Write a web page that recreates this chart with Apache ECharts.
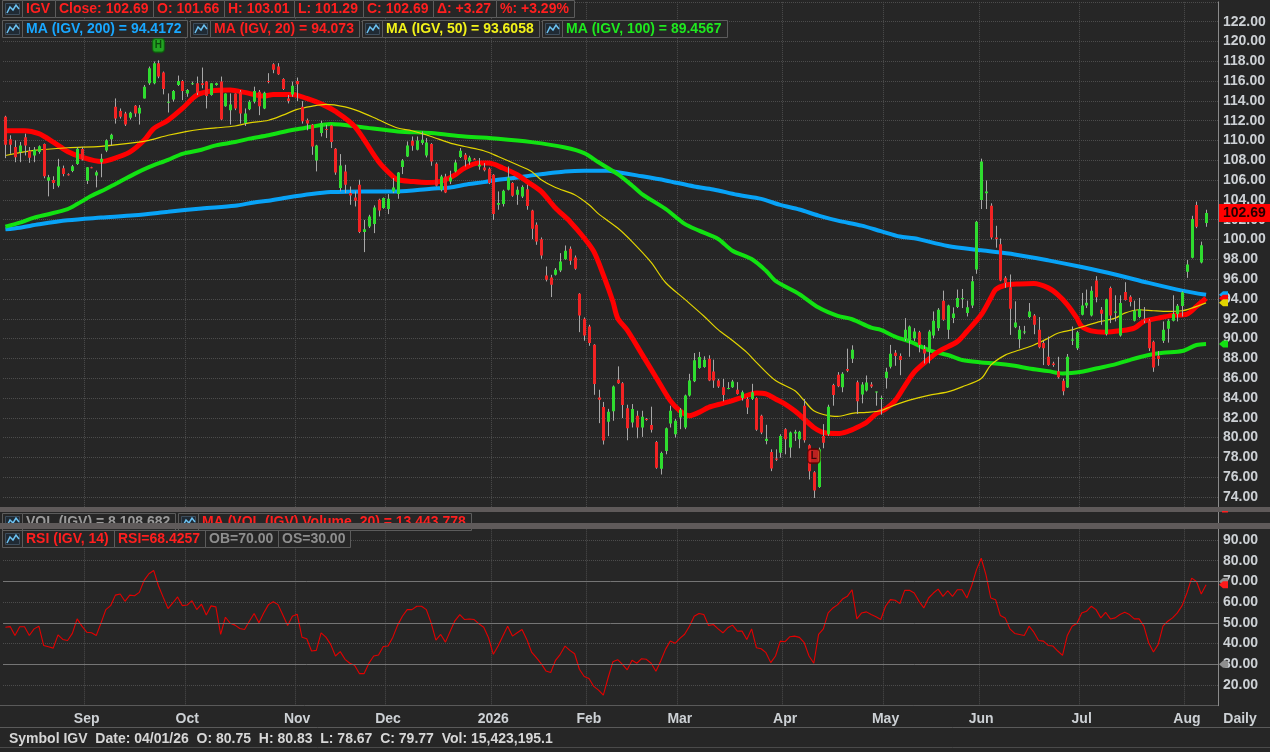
<!DOCTYPE html>
<html>
<head>
<meta charset="utf-8">
<title>IGV Daily</title>
<script src="https://cdn.jsdelivr.net/npm/echarts@6.0.0/dist/echarts.min.js"></script>
<style>
html, body { margin: 0; padding: 0; background: #262626; }
#chart { width: 1270px; height: 752px; }
</style>
</head>
<body>
<div id="chart"></div>
<script>
// ---- data ----
var holidays = ['2025-09-01', '2025-11-27', '2025-12-25', '2026-01-01', '2026-01-19',
    '2026-02-16', '2026-04-03', '2026-05-25', '2026-06-19', '2026-07-03'];
var firstDay = '2025-08-07';
var monthNames = ['Jan', 'Feb', 'Mar', 'Apr', 'May', 'Jun', 'Jul', 'Aug', 'Sep', 'Oct', 'Nov', 'Dec'];

var openP = [112.39,110.12,109.34,108.83,110.32,108.93,108.49,108.83,109.64,105.95,
    106.02,105.44,107.2,106.59,106.93,107.64,109.14,105.95,107.31,106.46,
    107.81,109.0,110.12,113.41,112.97,112.73,112.29,113.51,112.73,114.25,
    115.78,115.78,117.81,116.86,113.81,114.15,115.61,116.02,114.76,115.68,
    115.78,115.78,115.95,114.59,115.61,115.95,113.47,113.07,114.76,114.93,
    111.78,113.17,113.92,114.93,113.24,116.02,117.71,117.47,116.22,114.25,
    114.66,116.02,113.41,112.05,111.59,107.99,110.75,111.16,111.53,109.17,
    105.2,106.88,104.69,104.25,105.53,100.75,101.32,101.56,104.02,103.18,
    103.08,104.86,104.59,107.32,108.39,109.98,109.07,109.74,108.5,109.64,
    107.65,105.03,106.37,105.87,106.88,108.33,108.56,107.89,108.16,107.38,
    107.28,107.15,106.54,103.51,103.58,105.03,105.7,104.52,104.35,105.09,
    102.94,101.49,100.04,96.37,96.17,96.44,96.88,98.02,99.07,98.19,
    94.52,92.0,91.22,89.37,84.05,83.1,81.6,82.65,85.83,85.49,
    82.95,81.53,82.21,81.02,81.87,81.26,79.56,76.85,78.65,81.42,
    80.34,82.04,81.02,84.24,85.7,87.02,87.12,87.97,86.68,85.76,
    85.09,84.95,85.09,84.82,84.0,83.9,83.9,84.0,82.21,79.66,
    78.54,77.9,78.48,80.85,78.99,80.41,79.83,83.22,79.22,76.51,
    75.02,80.17,80.34,85.32,86.34,85.09,86.92,87.97,85.6,84.34,
    84.75,85.36,84.58,83.93,86.03,87.15,88.57,88.23,89.96,89.79,
    90.03,90.64,88.94,88.67,90.3,91.05,93.83,90.88,92.07,93.18,
    93.99,92.57,93.35,96.98,104.0,104.67,103.42,100.2,99.52,96.13,
    95.18,91.15,89.93,90.61,92.17,92.34,90.88,89.55,88.16,87.49,
    86.71,85.73,85.05,89.79,89.01,92.4,93.35,92.34,95.86,92.91,
    90.47,95.11,92.61,90.3,94.71,94.23,91.79,92.17,92.0,91.83,
    89.69,88.27,89.79,90.98,91.79,92.47,93.28,96.74,98.17,103.49,
    97.69,101.66];
var highP = [112.5,110.53,110.02,109.85,110.69,109.34,109.34,109.51,109.7,106.53,
    106.39,108.15,107.47,106.69,107.54,109.34,109.34,107.31,107.35,106.97,
    108.66,110.12,110.69,114.25,113.24,112.9,112.9,113.58,113.58,115.61,
    117.47,117.98,118.1,116.97,114.76,115.1,116.56,116.12,115.2,115.95,
    116.46,117.37,116.02,115.78,115.85,116.46,114.76,114.76,114.76,115.1,
    113.24,114.08,115.44,115.1,114.93,116.8,117.81,117.81,116.29,114.59,
    115.95,116.36,113.98,112.22,111.66,109.57,112.0,111.59,111.59,109.24,
    108.63,107.55,105.36,104.86,106.04,101.98,102.5,103.45,104.12,104.25,
    104.59,106.21,106.81,108.13,109.91,110.41,110.41,110.92,110.25,109.74,
    107.79,106.54,106.64,106.95,108.06,109.24,108.73,108.46,108.23,108.23,
    107.72,107.28,106.61,104.86,105.03,107.38,105.8,105.36,105.47,105.53,
    103.01,101.73,100.21,97.28,96.44,97.12,98.63,99.4,99.3,98.39,
    94.59,92.13,91.39,89.44,84.83,83.6,82.9,85.26,87.19,85.6,
    83.32,83.39,82.71,82.71,81.97,83.12,79.66,78.58,81.02,83.22,
    81.87,82.98,84.34,86.44,88.54,88.65,88.21,88.31,87.87,85.93,
    85.93,85.6,85.83,85.6,84.75,84.07,85.43,84.07,82.31,81.29,
    78.81,78.81,80.34,80.95,80.61,80.78,80.68,83.9,79.32,76.61,
    78.99,81.36,83.32,85.43,86.61,86.61,88.98,89.32,85.76,85.6,
    86.27,85.6,84.65,84.24,87.05,89.36,88.84,88.5,92.06,91.32,
    91.05,90.78,89.35,90.88,92.74,93.08,94.84,93.42,93.15,94.95,
    95.01,93.83,96.3,101.89,108.17,105.96,103.66,101.39,100.1,96.3,
    96.47,93.76,91.28,91.28,93.59,92.47,92.17,89.79,90.2,87.66,
    88.16,85.96,88.44,91.22,90.78,94.61,94.95,95.28,96.3,93.18,
    94.03,95.25,94.37,94.37,95.69,94.37,93.83,94.1,93.18,91.96,
    89.79,88.74,91.73,91.96,94.37,93.49,94.78,97.93,102.4,103.83,
    99.79,103.01];
var lowP = [108.22,108.66,107.81,107.81,108.49,107.75,107.81,108.66,106.19,104.36,
    105.1,105.27,106.39,106.46,106.8,107.54,107.98,105.61,107.2,105.27,
    106.29,108.83,109.51,111.71,112.22,111.47,112.12,112.39,111.61,114.25,
    115.61,115.68,116.29,114.66,112.83,113.92,115.51,114.08,114.42,115.61,
    114.59,115.27,113.24,114.53,115.54,112.05,113.41,111.61,113.07,111.71,
    111.47,113.07,113.75,112.56,113.17,115.78,116.8,116.63,115.1,113.75,
    114.42,113.98,111.71,111.03,108.56,106.88,110.41,110.25,109.24,106.54,
    104.86,104.69,103.51,103.34,100.65,98.73,101.16,100.65,102.33,103.11,
    102.57,104.69,104.12,106.61,108.33,108.97,109.0,109.57,108.29,107.45,
    105.36,104.86,104.69,105.6,106.78,108.23,107.38,107.55,108.02,107.05,
    106.88,105.6,101.98,103.01,103.34,104.96,104.32,103.51,104.19,103.01,
    100.04,99.47,98.06,95.77,94.19,96.37,96.71,97.96,97.45,96.95,
    90.65,89.78,89.27,84.32,81.46,79.3,80.15,81.7,85.43,81.97,
    79.73,81.02,79.93,80.07,81.7,80.51,76.85,76.27,78.31,81.02,
    80.0,80.85,80.85,84.14,85.6,86.95,87.05,85.7,85.02,85.02,
    83.66,84.88,85.02,84.34,83.73,82.38,83.8,80.68,80.34,79.32,
    76.61,77.63,77.97,78.31,77.97,79.66,78.92,79.49,75.77,73.9,
    74.92,78.92,80.17,83.22,85.09,84.58,86.61,87.53,82.38,83.46,
    84.65,85.02,83.22,82.31,84.95,86.98,87.25,86.3,89.76,88.16,
    89.76,88.61,87.49,87.49,90.03,90.78,91.79,89.96,91.56,93.08,
    93.08,92.23,93.08,96.54,103.08,103.08,100.03,99.18,95.79,95.12,
    90.37,91.05,89.01,90.44,92.06,90.44,89.01,87.32,87.25,87.15,
    85.96,84.27,85.01,89.35,88.84,92.34,93.08,92.23,93.66,91.39,
    90.3,91.56,91.73,90.2,93.83,93.25,91.73,92.06,91.56,88.74,
    86.64,87.25,89.55,89.59,91.73,91.73,92.23,96.13,98.1,101.15,
    97.59,101.29];
var closeP = [109.58,109.58,108.32,109.51,109.51,108.25,109.07,109.41,106.39,106.29,
    105.71,107.37,106.63,106.53,107.41,109.17,108.08,107.31,107.24,106.8,
    108.15,110.02,110.59,112.22,112.39,111.61,112.8,112.73,113.31,115.44,
    117.31,117.81,116.46,115.2,113.92,115.0,116.02,115.0,115.1,115.78,
    114.83,115.61,114.49,115.78,115.78,112.12,114.76,113.64,113.24,112.73,
    112.73,113.92,115.0,113.47,114.83,115.95,117.14,116.69,115.2,113.98,
    115.54,115.68,111.95,111.71,109.4,109.5,111.76,111.06,109.84,106.78,
    107.49,105.53,104.46,103.92,100.75,101.05,102.33,103.24,102.94,104.19,
    104.12,105.26,106.78,107.99,109.5,109.47,110.01,110.08,109.81,107.89,
    105.43,106.37,104.76,106.27,107.79,108.97,108.06,108.29,108.09,107.55,
    107.01,105.7,102.57,103.68,104.93,106.27,104.42,105.03,105.3,103.38,
    101.09,99.81,98.39,95.94,95.43,96.95,97.79,98.87,97.86,97.05,
    92.33,90.31,89.54,85.4,83.82,79.7,82.6,85.15,85.49,83.29,
    80.95,82.88,81.02,82.1,81.8,80.78,76.95,78.44,80.95,82.71,
    81.7,82.82,84.24,85.76,87.8,88.14,87.87,85.76,85.76,85.16,
    84.31,85.02,85.66,84.41,84.58,83.05,84.58,80.78,80.51,79.87,
    76.88,77.77,80.17,79.83,80.51,80.58,80.58,79.73,76.61,74.65,
    78.82,79.49,83.12,84.31,85.19,86.44,86.75,88.88,83.66,85.36,
    85.56,85.16,84.65,84.0,86.64,88.47,88.23,87.83,90.88,91.22,
    90.71,89.35,88.5,90.71,91.79,92.91,91.9,93.35,92.54,94.1,
    94.1,93.15,95.79,101.79,107.89,104.84,100.2,100.06,95.86,95.62,
    93.01,91.62,90.88,90.71,92.74,91.39,89.12,89.01,87.32,87.32,
    86.1,84.67,88.16,89.9,90.64,93.35,93.62,94.84,94.17,92.5,
    93.96,92.34,92.74,93.59,93.9,93.69,92.81,92.98,91.79,89.01,
    87.08,87.93,90.88,91.79,92.47,93.32,94.68,97.49,102.07,101.29,
    99.42,102.69];

// moving averages as read, [bar index, value]
var ma20 = [[0,111.0],[4,111.0],[7,110.69],[10,109.85],[13,108.9],[16,108.32],[20,107.88],[22,108.08],
    [26,108.83],[29,110.02],[31,111.2],[34,112.05],[37,113.24],[40,114.59],[43,115.0],[47,115.1],
    [50,114.86],[54,114.49],[56,114.66],[60,114.66],[63,114.25],[66,113.7],[69,112.94],[73,111.43],
    [78,107.89],[81,106.37],[82,106.04],[85,105.87],[88,105.77],[90,105.8],[92,106.04],[94,106.54],
    [96,107.22],[99,107.72],[101,107.72],[104,107.22],[107,106.54],[109,105.87],[112,104.86],[115,103.18],
    [118,101.83],[121,100.15],[123,98.8],[125,96.44],[127,93.75],[128,92.07],[130,90.85],[133,88.48],
    [136,86.1],[139,83.73],[141,82.71],[143,82.21],[145,82.55],[147,83.05],[150,83.46],[152,83.73],
    [154,84.07],[157,84.51],[159,84.41],[161,83.9],[163,83.39],[165,82.71],[167,81.87],[169,81.02],
    [171,80.51],[174,80.41],[176,80.61],[178,81.02],[180,81.53],[182,82.38],[184,82.88],[186,83.73],
    [188,85.2],[190,86.6],[192,87.5],[195,88.67],[199,89.69],[201,90.71],[204,92.4],[206,94.1],
    [207,94.95],[209,95.39],[212,95.52],[215,95.56],[218,95.12],[220,94.44],[222,93.42],[224,92.06],
    [225,91.22],[227,90.78],[230,90.64],[233,90.78],[236,91.05],[238,91.73],[241,92.06],[244,92.34],
    [247,92.47],[249,93.25],[251,94.07]];
var ma50 = [[0,108.49],[6,109.0],[13,109.27],[20,109.41],[27,109.78],[30,110.02],[34,110.53],[38,110.93],
    [41,111.14],[44,111.27],[48,111.47],[51,111.78],[55,112.05],[58,112.56],[61,113.14],[64,113.45],
    [67,113.65],[71,113.4],[74,112.94],[78,112.1],[82,111.26],[85,110.99],[89,110.41],[93,109.74],
    [96,109.4],[100,108.97],[103,108.39],[107,107.55],[110,106.88],[112,106.04],[115,105.26],[119,104.52],
    [122,103.51],[124,102.59],[128,101.16],[131,99.79],[135,97.69],[138,95.66],[142,93.98],[146,92.28],
    [149,90.9],[152,89.8],[155,88.6],[157,87.6],[161,85.76],[165,84.75],[167,83.73],[169,82.71],
    [172,82.21],[174,82.14],[177,82.44],[180,82.55],[183,82.71],[185,83.12],[189,83.78],[193,84.27],
    [197,84.61],[200,85.12],[204,85.96],[206,87.32],[209,88.33],[212,88.84],[215,89.35],[218,90.03],
    [220,90.54],[223,90.88],[226,91.32],[229,91.73],[232,92.06],[234,92.57],[237,92.91],[240,92.81],
    [243,92.74],[246,92.81],[248,93.08],[251,93.61]];
var ma100 = [[0,101.31],[3,101.71],[6,102.22],[9,102.56],[13,103.07],[15,103.58],[18,104.42],[21,105.1],
    [23,105.61],[27,106.63],[30,107.31],[34,108.05],[37,108.66],[41,109.07],[44,109.51],[48,109.85],
    [51,110.19],[55,110.53],[58,110.86],[61,111.14],[64,111.4],[68,111.66],[75,111.32],[82,110.92],
    [89,110.75],[96,110.41],[103,110.18],[110,109.84],[117,109.3],[121,108.73],[124,107.8],[128,106.6],
    [131,105.46],[133,104.62],[138,103.09],[142,101.58],[145,100.9],[149,100.06],[152,98.87],[156,98.03],
    [159,96.85],[161,95.83],[166,94.48],[170,93.13],[174,92.29],[177,91.95],[181,91.1],[183,90.88],
    [186,90.2],[190,89.52],[193,88.84],[197,88.34],[200,87.83],[204,87.59],[207,87.49],[211,87.25],
    [214,86.98],[218,86.71],[221,86.47],[225,86.64],[228,86.98],[232,87.39],[235,87.83],[239,88.34],
    [242,88.57],[246,88.74],[249,89.35],[251,89.46]];
var ma200 = [[0,101.03],[3,101.2],[7,101.54],[13,101.95],[20,102.22],[27,102.46],[34,102.8],[41,103.14],
    [48,103.41],[52,103.75],[55,103.92],[59,104.25],[64,104.6],[68,104.79],[75,104.86],[82,104.86],
    [89,105.13],[93,105.26],[96,105.53],[100,105.8],[103,106.04],[107,106.27],[110,106.48],[114,106.71],
    [117,106.88],[121,106.95],[126,106.95],[128,106.8],[132,106.48],[138,105.97],[144,105.36],[148,105.06],
    [153,104.52],[158,104.11],[162,103.5],[166,103.03],[170,102.42],[174,101.91],[179,101.41],[183,100.85],
    [187,100.3],[190,100.13],[197,99.35],[204,98.91],[211,98.5],[218,97.9],[225,97.22],[232,96.47],
    [239,95.62],[246,94.84],[251,94.42]];

var rsi14 = [47.9,48.2,43.9,48.1,48.1,43.9,47.1,48.4,39.1,38.5,
    37.8,44.2,42.0,41.5,44.9,51.9,48.4,45.5,45.2,43.9,
    50.0,56.4,58.3,63.4,63.9,60.4,63.4,63.1,64.7,70.5,
    73.7,75.3,67.9,62.3,56.9,59.6,62.5,58.3,58.6,60.7,
    56.4,59.0,53.8,58.2,57.7,44.4,52.7,49.8,48.9,47.3,
    46.8,50.8,54.5,50.0,54.8,58.8,60.2,58.8,53.8,48.7,
    53.2,54.2,43.1,42.3,36.4,36.7,45.2,43.1,39.6,34.0,
    36.1,32.4,30.5,29.5,25.5,25.5,30.5,34.0,34.5,38.6,
    38.8,43.1,48.9,53.2,56.4,56.4,58.0,58.0,56.4,50.0,
    41.7,44.4,40.7,46.0,51.1,54.0,51.6,51.9,51.6,49.5,
    47.9,42.8,34.8,38.8,43.6,48.4,43.6,45.2,46.8,42.0,
    35.9,33.2,30.3,26.8,26.0,31.9,34.8,38.8,36.7,35.1,
    27.6,24.1,23.1,19.3,17.5,15.1,23.5,31.2,32.2,30.0,
    27.3,31.9,30.5,32.7,32.4,30.5,26.6,31.6,37.2,41.2,
    40.1,42.5,44.5,48.4,53.2,54.5,54.0,48.7,49.2,47.1,
    45.2,47.6,48.9,46.0,46.0,42.0,47.1,38.0,37.5,35.6,
    30.8,34.0,41.2,40.9,43.3,43.6,43.0,40.4,34.0,30.5,
    44.4,47.1,54.8,57.2,58.8,61.5,62.8,66.0,51.9,54.8,
    55.3,54.0,52.9,51.6,58.0,61.2,60.9,59.3,65.7,65.7,
    64.4,60.4,57.2,62.0,64.4,66.3,62.8,65.5,62.8,66.0,
    66.0,62.0,67.9,75.6,81.2,73.2,62.0,61.2,53.5,52.4,
    47.1,44.9,44.4,43.9,48.4,45.5,41.5,41.2,39.1,38.8,
    36.4,34.3,43.9,48.4,49.7,54.8,55.6,58.0,56.4,52.4,
    55.1,51.9,52.4,54.0,55.1,54.0,51.9,51.9,48.4,40.4,
    35.9,39.6,48.4,50.8,52.4,54.8,58.3,64.4,71.6,70.0,
    63.9,68.4];
var rsiLevels = [70, 50, 30];

// axis ranges (tick labels every 2 / every 10)
var priceAxis = { min: 72, max: 124, step: 2 };
var rsiAxis = { min: 10, max: 100, step: 10 };

// header texts
var headRow = ['IGV', 'Close: 102.69', 'O: 101.66', 'H: 103.01', 'L: 101.29', 'C: 102.69', 'Δ: +3.27', '%: +3.29%'];
var maRow = [
    ['MA (IGV, 200) = 94.4172', '#19a7ff'],
    ['MA (IGV, 20) = 94.073', '#ff1f1f'],
    ['MA (IGV, 50) = 93.6058', '#f2f21a'],
    ['MA (IGV, 100) = 89.4567', '#1fe81f']
];
var volRow = [['VOL (IGV) = 8,108,682', '#9a9a9a'], ['MA (VOL (IGV) Volume, 20) = 13,443,778', '#ff1f1f']];
var rsiRow = [['RSI (IGV, 14)', '#ff1f1f'], ['RSI=68.4257', '#ff1f1f'], ['OB=70.00', '#8e8e8e'], ['OS=30.00', '#8e8e8e']];
var statusText = 'Symbol IGV  Date: 04/01/26  O: 80.75  H: 80.83  L: 78.67  C: 79.77  Vol: 15,423,195.1';

// ---- setup ----
var BG = '#262626';
var TXT = '#cdd1d5';
var DOTS = '#4c4c4c';
var FONTFAM = '"Liberation Sans", Arial, sans-serif';
var FONT = 'bold 14px ' + FONTFAM;

function tradingDays(start, count) {
    var out = [];
    var d = new Date(start + 'T12:00:00Z');
    while (out.length < count) {
        var wd = d.getUTCDay();
        var s = d.toISOString().slice(0, 10);
        if (wd !== 0 && wd !== 6 && holidays.indexOf(s) < 0) out.push(s);
        d.setUTCDate(d.getUTCDate() + 1);
    }
    return out;
}
// two empty slots at the right edge
var dates = tradingDays(firstDay, openP.length + 2);

function isMonthStart(index) {
    return index > 0 && dates[index].slice(5, 7) !== dates[index - 1].slice(5, 7);
}
function monthLabel(value) {
    var m = +value.slice(5, 7);
    return m === 1 ? value.slice(0, 4) : monthNames[m - 1];
}

var candleRows = openP.map(function (o, i) {
    return [i, o, closeP[i], lowP[i], highP[i]];
});

var hiIdx = 0, loIdx = 0;
highP.forEach(function (v, i) { if (v > highP[hiIdx]) hiIdx = i; });
lowP.forEach(function (v, i) { if (v < lowP[loIdx]) loIdx = i; });

function renderCandle(params, api) {
    var i = api.value(0);
    var o = api.value(1), c = api.value(2), l = api.value(3), h = api.value(4);
    var po = api.coord([i, o]), pc = api.coord([i, c]);
    var yl = api.coord([i, l])[1], yh = api.coord([i, h])[1];
    var xs = Math.round(po[0]) + 0.5;
    var top = Math.min(po[1], pc[1]);
    var hgt = Math.max(1, Math.abs(po[1] - pc[1]));
    return {
        type: 'group',
        children: [
            { type: 'line', shape: { x1: xs, y1: yh, x2: xs, y2: yl }, style: { stroke: '#a8a8a8', lineWidth: 1 } },
            { type: 'rect', shape: { x: xs - 1.5, y: top, width: 3, height: hgt },
              style: { fill: c >= o ? '#2fdc2f' : '#f22323' } }
        ]
    };
}

function monthAxis(gridIndex, showLabel) {
    return {
        type: 'category', gridIndex: gridIndex, data: dates, boundaryGap: true,
        axisLine: { show: false },
        axisTick: { show: false },
        axisPointer: { show: false },
        axisLabel: {
            show: showLabel, interval: isMonthStart, formatter: monthLabel,
            color: TXT, fontWeight: 'bold', fontSize: 14, fontFamily: FONTFAM, margin: 6
        },
        splitLine: { show: true, interval: isMonthStart, lineStyle: { color: DOTS, type: 'dotted', width: 1 } }
    };
}

function valueAxis(gridIndex, r) {
    return {
        type: 'value', gridIndex: gridIndex, position: 'right',
        min: r.min, max: r.max, interval: r.step,
        axisLine: { show: true, lineStyle: { color: '#8a8a8a' } },
        axisTick: { show: false },
        axisLabel: {
            color: TXT, fontWeight: 'bold', fontSize: 14, fontFamily: FONTFAM, margin: 5,
            showMinLabel: false, showMaxLabel: false,
            formatter: function (v) { return v.toFixed(2); }
        },
        splitLine: { show: true, lineStyle: { color: DOTS, type: 'dotted', width: 1 } }
    };
}

function maLine(name, data, color, width, z) {
    return {
        type: 'line', name: name, xAxisIndex: 0, yAxisIndex: 0, data: data,
        showSymbol: false, smooth: 0.3, silent: true, z: z,
        lineStyle: { color: color, width: width }
    };
}

function marker(idx, letter, fill, border, ink) {
    return {
        type: 'scatter', xAxisIndex: 0, yAxisIndex: 0, silent: true, z: 8,
        data: [[idx, highP[idx]]],
        symbol: 'roundRect', symbolSize: [12, 14], symbolOffset: [0, -15],
        itemStyle: { color: fill, borderColor: border, borderWidth: 1.5 },
        label: { show: true, position: 'inside', formatter: letter, color: ink,
                 fontWeight: 'bold', fontSize: 10, fontFamily: FONTFAM }
    };
}

var chart = echarts.init(document.getElementById('chart'));

chart.setOption({
    backgroundColor: BG,
    animation: false,
    grid: [
        { left: 3, top: 1.9, width: 1215, height: 514.9 },
        { left: 3, top: 519.3, width: 1215, height: 186.4 }
    ],
    xAxis: [monthAxis(0, false), monthAxis(1, true)],
    yAxis: [valueAxis(0, priceAxis), valueAxis(1, rsiAxis)],
    series: [
        maLine('MA200', ma200, '#08a3f7', 4, 2),
        maLine('MA100', ma100, '#12e212', 4, 3),
        maLine('MA20', ma20, '#ff0000', 5, 4),
        maLine('MA50', ma50, '#e2d400', 1.2, 5),
        {
            type: 'custom', name: 'IGV', xAxisIndex: 0, yAxisIndex: 0,
            renderItem: renderCandle, data: candleRows, z: 6, clip: true,
            encode: { x: 0, y: [1, 2, 3, 4] }
        },
        marker(hiIdx, 'H', '#22c322', '#0b5a0b', '#063306'),
        marker(loIdx, 'L', '#e22020', '#5a0000', '#1a0000'),
        {
            type: 'line', name: 'RSI', xAxisIndex: 1, yAxisIndex: 1, data: rsi14,
            showSymbol: false, silent: true, z: 4,
            lineStyle: { color: '#e30000', width: 1.1 },
            markLine: {
                silent: true, symbol: 'none', label: { show: false },
                lineStyle: { color: '#757575', type: 'solid', width: 1 },
                data: rsiLevels.map(function (v) { return { yAxis: v }; })
            }
        }
    ]
});

// ---- overlays: header boxes, panel separators, axis flags ----
var ctx = document.createElement('canvas').getContext('2d');
function textW(t) { ctx.font = FONT; return ctx.measureText(t).width; }

var gfx = [];
function iconBox(x, y, h, z) {
    z = z || 100;
    gfx.push({ type: 'rect', z: z, shape: { x: x + 0.5, y: y + 0.5, width: 20, height: h },
               style: { fill: BG, stroke: '#5c5c5c', lineWidth: 1 } });
    gfx.push({ type: 'rect', z: z + 1, shape: { x: x + 3.5, y: y + 3.5, width: 14, height: h - 6 },
               style: { fill: '#1f2a34', stroke: '#3d4d5c', lineWidth: 1 } });
    gfx.push({ type: 'polyline', z: z + 2,
               shape: { points: [[x + 5, y + h - 4], [x + 8, y + 7], [x + 11, y + 10], [x + 14, y + 5], [x + 17, y + 9]] },
               style: { stroke: '#6cc2f2', lineWidth: 1.5, fill: null } });
    return x + 20;
}
function textBox(x, y, h, text, color, z) {
    var w = Math.round(textW(text)) + 9;
    gfx.push({ type: 'rect', z: z, shape: { x: x + 0.5, y: y + 0.5, width: w, height: h },
               style: { fill: BG, stroke: '#5c5c5c', lineWidth: 1 } });
    gfx.push({ type: 'text', z: z + 1, x: x + 4, y: y + h / 2 + 1,
               style: { text: text, fill: color, font: FONT, align: 'left', verticalAlign: 'middle' } });
    return x + w;
}

// row 1: symbol quote
var x = iconBox(2, 0, 17);
headRow.forEach(function (t) { x = textBox(x, 0, 17, t, '#ff1f1f', 100); });

// row 2: moving averages
x = 2;
maRow.forEach(function (m) { x = iconBox(x, 20, 17); x = textBox(x, 20, 17, m[0], m[1], 100) + 3; });

// volume strip (mostly hidden) and separators
gfx.push({ type: 'rect', z: 140, shape: { x: 0, y: 512, width: 1270, height: 11 }, style: { fill: BG } });
gfx.push({ type: 'line', z: 141, shape: { x1: 1218.5, y1: 512, x2: 1218.5, y2: 523 }, style: { stroke: '#8a8a8a', lineWidth: 1 } });
x = 2;
volRow.forEach(function (m) { x = iconBox(x, 513, 17, 150); x = textBox(x, 513, 17, m[0], m[1], 150) + 3; });
gfx.push({ type: 'rect', z: 200, shape: { x: 0, y: 507, width: 1270, height: 5 }, style: { fill: '#5f5a5a' } });
gfx.push({ type: 'rect', z: 200, shape: { x: 0, y: 523, width: 1270, height: 6 }, style: { fill: '#5f5a5a' } });
gfx.push({ type: 'rect', z: 201, shape: { x: 1222, y: 511, width: 6, height: 1.5 }, style: { fill: '#ff2020' } });

// RSI header
x = iconBox(2, 530, 17);
rsiRow.forEach(function (m) { x = textBox(x, 530, 17, m[0], m[1], 100); });

// last price tag and axis flags, placed through the axes
function flag(y, color) {
    gfx.push({ type: 'polygon', z: 125,
               shape: { points: [[1219, y], [1223, y - 3.5], [1228, y - 3.5], [1228, y + 3.5], [1223, y + 3.5]] },
               style: { fill: color } });
}
var lastClose = closeP[closeP.length - 1];
var yClose = chart.convertToPixel({ yAxisIndex: 0 }, lastClose);
gfx.push({ type: 'rect', z: 120, shape: { x: 1219, y: Math.round(yClose) - 9, width: 51, height: 18 }, style: { fill: '#ff0000' } });
gfx.push({ type: 'text', z: 121, x: 1223, y: Math.round(yClose) + 0.5,
           style: { text: lastClose.toFixed(2), fill: '#240000', font: FONT, align: 'left', verticalAlign: 'middle' } });

[[ma200, '#08a3f7'], [ma20, '#ff0000'], [ma50, '#e2d400'], [ma100, '#12e212']].forEach(function (m) {
    var last = m[0][m[0].length - 1][1];
    flag(chart.convertToPixel({ yAxisIndex: 0 }, last), m[1]);
});
flag(chart.convertToPixel({ yAxisIndex: 1 }, 70), '#8e8e8e');
flag(chart.convertToPixel({ yAxisIndex: 1 }, 30), '#8e8e8e');
flag(chart.convertToPixel({ yAxisIndex: 1 }, rsi14[rsi14.length - 1]), '#ff1a1a');

// bottom: panel edge, period label, status bar
gfx.push({ type: 'line', z: 90, shape: { x1: 0, y1: 705.5, x2: 1218, y2: 705.5 }, style: { stroke: '#5a5a5a', lineWidth: 1 } });
gfx.push({ type: 'text', z: 90, x: 1240, y: 719,
           style: { text: 'Daily', fill: TXT, font: FONT, align: 'center', verticalAlign: 'middle' } });
gfx.push({ type: 'line', z: 90, shape: { x1: 0, y1: 727.5, x2: 1270, y2: 727.5 }, style: { stroke: '#5a5a5a', lineWidth: 1 } });
gfx.push({ type: 'text', z: 90, x: 9, y: 739,
           style: { text: statusText, fill: '#d6d6d6', font: FONT, align: 'left', verticalAlign: 'middle' } });
gfx.push({ type: 'line', z: 90, shape: { x1: 0, y1: 747.5, x2: 1270, y2: 747.5 }, style: { stroke: '#4a4a4a', lineWidth: 1 } });

chart.setOption({ graphic: gfx });
</script>
</body>
</html>
